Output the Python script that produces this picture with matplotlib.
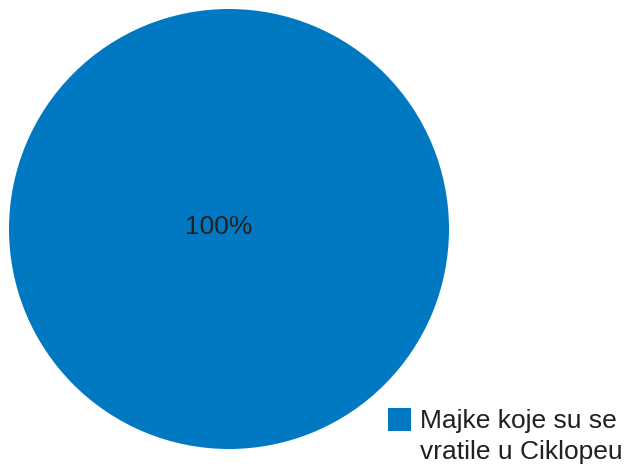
import matplotlib
matplotlib.use("Agg")
import matplotlib.pyplot as plt
from matplotlib.patches import Patch, Rectangle
from matplotlib.legend_handler import HandlerPatch

categories = ["Majke koje su se\nvratile u Ciklopeu"]
values = [100]
colors = ["#0079C2"]

plt.rcParams['font.family'] = ['Liberation Sans', 'DejaVu Sans']
TXT = '#231F20'

W, H = 628, 466
fig = plt.figure(figsize=(W / 100, H / 100), dpi=100)
ax = fig.add_axes([9 / W, (H - 449) / H, 440 / W, 440 / H])
wedges, texts, autotexts = ax.pie(values, colors=colors, startangle=90,
                                  autopct='%d%%', pctdistance=0.0,
                                  textprops=dict(color=TXT, fontsize=19),
                                  wedgeprops=dict(linewidth=0))
autotexts[0].set_position((-0.045, 0.008))
ax.set_xlim(-1, 1)
ax.set_ylim(-1, 1)
ax.set_aspect('auto')
ax.axis('off')


def top_square(legend, orig_handle, xdescent, ydescent, width, height, fontsize):
    return Rectangle((-xdescent, -ydescent + 12.0), width, width)


handles = [Patch(facecolor=c, edgecolor='none') for c in colors]
leg = fig.legend(handles, categories, loc='lower left',
                 bbox_to_anchor=(388 / W, 2 / H), frameon=False,
                 fontsize=19, handlelength=0.87, handleheight=0.87,
                 handletextpad=0.33, labelcolor=TXT,
                 borderaxespad=0, borderpad=0.0,
                 handler_map={Patch: HandlerPatch(patch_func=top_square)})
for t in leg.get_texts():
    t.set_linespacing(1.38)

fig.savefig("out.png", dpi=100)
